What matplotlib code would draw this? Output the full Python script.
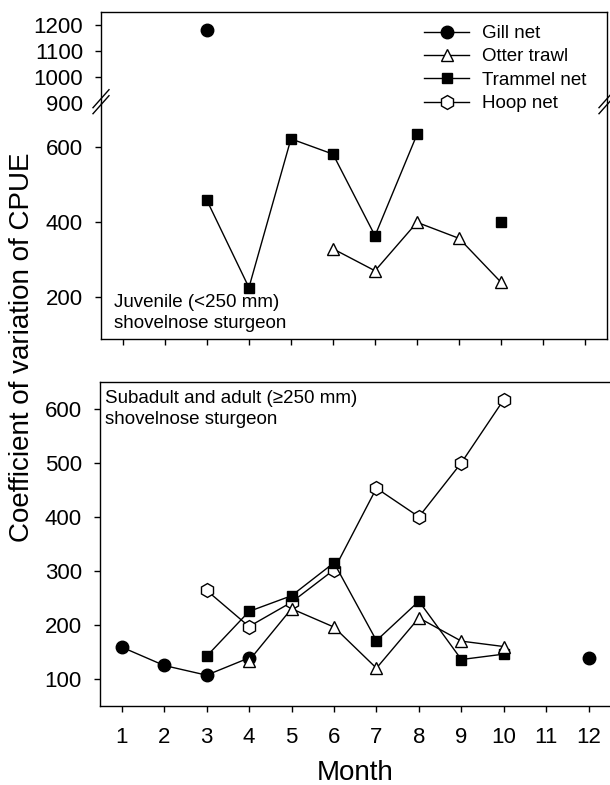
import matplotlib
matplotlib.use("Agg")
import matplotlib.pyplot as plt
from matplotlib.lines import Line2D
import numpy as np

plt.rcParams['font.family'] = ['Liberation Sans', 'DejaVu Sans']

# ---------------- data ----------------
months = list(range(1, 13))
month_labels = [str(m) for m in months]

# Juvenile (top panel)
juv_gill_x = [3]
juv_gill_y = [1180]
juv_otter_x = [6, 7, 8, 9, 10]
juv_otter_y = [328, 269, 399, 356, 238]
juv_trammel_x = [3, 4, 5, 6, 7, 8]
juv_trammel_y = [458, 224, 623, 582, 363, 635]
juv_trammel_iso_x = [10]
juv_trammel_iso_y = [400]

# Subadult and adult (bottom panel)
ad_gill_x = [1, 2, 3, 4]
ad_gill_y = [159, 125, 107, 139]
ad_gill_iso_x = [12]
ad_gill_iso_y = [138]
ad_otter_x = [4, 5, 6, 7, 8, 9, 10]
ad_otter_y = [134, 230, 196, 120, 213, 170, 160]
ad_trammel_x = [3, 4, 5, 6, 7, 8, 9, 10]
ad_trammel_y = [142, 225, 254, 315, 171, 244, 136, 146]
ad_hoop_x = [3, 4, 5, 6, 7, 8, 9, 10]
ad_hoop_y = [264, 197, 242, 302, 453, 400, 500, 617]

W, H = 610, 785
fig = plt.figure(figsize=(W / 100, H / 100), dpi=100)

def fx(px):
    return px / W

def fy(py):
    return 1 - py / H

styles = {
    'gill': dict(marker='o', ms=9, mfc='black', mec='black', color='black', lw=1),
    'otter': dict(marker='^', ms=8.5, mfc='white', mec='black', color='black', lw=1, mew=1),
    'trammel': dict(marker='s', ms=7.5, mfc='black', mec='black', color='black', lw=1),
    'hoop': dict(marker='h', ms=10, mfc='white', mec='black', color='black', lw=1, mew=1),
}

def nolines(d):
    return {k: v for k, v in d.items() if k != 'lw'}

tick_fs = 16
# ---------------- top panel (broken axis) ----------------
tl, tr = 101, 607
brk = 102.7
ax_up = fig.add_axes([fx(tl), fy(brk), fx(tr - tl), (brk - 11.7) / H])
ax_lo = fig.add_axes([fx(tl), fy(339), fx(tr - tl), (339 - brk) / H])

for ax in (ax_up, ax_lo):
    ax.set_xlim(0.48, 12.52)
    ax.tick_params(direction='out', length=4, width=1, labelsize=tick_fs)
    ax.tick_params(axis='y', pad=9)
    for s in ax.spines.values():
        s.set_linewidth(1)

ax_up.set_ylim(900, 1250)
ax_up.set_yticks([900, 1000, 1100, 1200])
ax_up.spines['bottom'].set_visible(False)
ax_up.tick_params(axis='x', bottom=False, labelbottom=False)
ax_up.yaxis.get_major_ticks()[0].tick1line.set_visible(False)

ax_lo.set_ylim(86, 720)
ax_lo.set_yticks([200, 400, 600])
ax_lo.spines['top'].set_visible(False)
ax_lo.set_xticks(months)
ax_lo.set_xticklabels([])

ax_up.plot(juv_gill_x, juv_gill_y, linestyle='none', **nolines(styles['gill']))
ax_lo.plot(juv_trammel_x, juv_trammel_y, **styles['trammel'])
ax_lo.plot(juv_trammel_iso_x, juv_trammel_iso_y, linestyle='none', **nolines(styles['trammel']))
ax_lo.plot(juv_otter_x, juv_otter_y, **styles['otter'])

ax_lo.text(0.025, 0.03, "Juvenile (<250 mm)\nshovelnose sturgeon", transform=ax_lo.transAxes,
           fontsize=13.5, ha='left', va='bottom', linespacing=1.3)

# break marks
for xb in (tl, tr):
    for off in (-3, 3):
        fig.add_artist(Line2D([fx(xb - 8), fx(xb + 8)], [fy(brk + 8 + off), fy(brk - 10 + off)],
                              color='black', lw=1))

# legend
handles = [Line2D([], [], **styles['gill']), Line2D([], [], **styles['otter']),
           Line2D([], [], **styles['trammel']), Line2D([], [], **styles['hoop'])]
labels = ['Gill net', 'Otter trawl', 'Trammel net', 'Hoop net']
fig.legend(handles, labels, loc='upper left', bbox_to_anchor=(fx(424), fy(25)),
           frameon=False, fontsize=13.5, handlelength=2.4, handletextpad=0.7,
           labelspacing=0.33, borderaxespad=0, borderpad=0)

# ---------------- bottom panel ----------------
ax_b = fig.add_axes([fx(100), fy(706), fx(510), (706 - 381.7) / H])
ax_b.set_xlim(0.49, 12.5)
ax_b.set_ylim(50, 650)
ax_b.set_yticks([100, 200, 300, 400, 500, 600])
ax_b.set_xticks(months)
ax_b.set_xticklabels(month_labels)
ax_b.tick_params(direction='out', length=4, width=1, labelsize=tick_fs, pad=11)
ax_b.tick_params(axis='y', pad=9)
ax_b.spines['right'].set_visible(False)
for s in ax_b.spines.values():
    s.set_linewidth(1)

ax_b.plot(ad_gill_x, ad_gill_y, **styles['gill'])
ax_b.plot(ad_gill_iso_x, ad_gill_iso_y, linestyle='none', **nolines(styles['gill']))
ax_b.plot(ad_hoop_x, ad_hoop_y, **styles['hoop'])
ax_b.plot(ad_trammel_x, ad_trammel_y, **styles['trammel'])
ax_b.plot(ad_otter_x, ad_otter_y, **styles['otter'])

ax_b.text(0.01, 0.975, "Subadult and adult (≥250 mm)\nshovelnose sturgeon", transform=ax_b.transAxes,
          fontsize=13.5, ha='left', va='top', linespacing=1.3)

# axis labels
fig.text(fx(22), fy(347), "Coefficient of variation of CPUE", rotation=90,
         ha='center', va='center', fontsize=20)
fig.text(fx(355), fy(773), "Month", ha='center', va='center', fontsize=20)

fig.savefig("out.png", dpi=100)
